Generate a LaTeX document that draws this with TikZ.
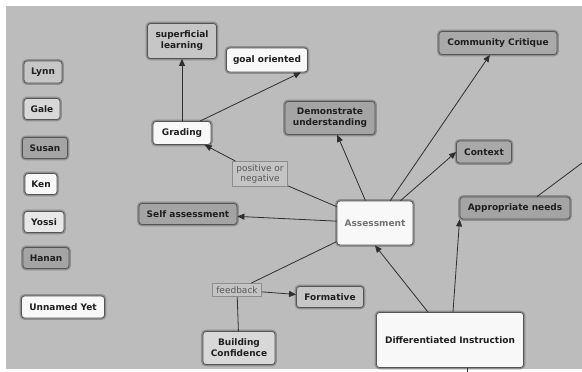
\documentclass[tikz,border=0pt]{standalone}
\usepackage{fontspec}
\setmainfont{DejaVu Sans}
\usetikzlibrary{arrows.meta}
\definecolor{bg}{HTML}{BCBCBC}
\definecolor{fwhite}{HTML}{F8F8F8}
\definecolor{flight}{HTML}{D8D8D8}
\definecolor{fmid}{HTML}{C6C6C6}
\definecolor{fdark}{HTML}{A4A4A4}
\definecolor{edgec}{HTML}{555555}
\definecolor{halo}{HTML}{8E8E8E}
\definecolor{linec}{HTML}{2E2E2E}
\definecolor{lblfill}{HTML}{C4C4C4}
\tikzset{
  concept/.style={rounded corners=3pt, draw=edgec, line width=0.8pt,
    preaction={draw=halo, line width=3.6pt},
    font=\fontsize{9}{11}\selectfont\bfseries, text=black!88,
    align=center, inner sep=0pt},
  sz/.style 2 args={minimum width=#1pt, minimum height=#2pt},
  lbl/.style={draw=halo, fill=lblfill, line width=0.8pt, text=black!65,
    font=\fontsize{9}{10.5}\selectfont, align=center, inner xsep=2pt, inner ysep=1pt},
  arr/.style={draw=linec, line width=0.8pt, -{Triangle[length=7pt,width=6pt]}},
  conn/.style={draw=linec, line width=0.8pt}
}
\begin{document}
\begin{tikzpicture}[x=1pt,y=-1pt]
\fill[white] (0,0) rectangle (582,372);
\fill[bg] (6,6) rectangle (582,369);
\useasboundingbox (0,0) rectangle (582,372);

% left column
\node[concept, fill=fmid, sz={38}{22}] (lynn) at (43,72) {Lynn};
\node[concept, fill=flight, sz={36}{21}] (gale) at (42,109) {Gale};
\node[concept, fill=fdark, sz={45}{21}] (susan) at (45,148) {Susan};
\node[concept, fill=fwhite, sz={32}{21}] (ken) at (41,184) {Ken};
\node[concept, fill=flight!50!fwhite, sz={40}{21}] (yossi) at (44,222) {Yossi};
\node[concept, fill=fdark, sz={46}{21}] (hanan) at (46,258) {Hanan};
\node[concept, fill=fwhite, sz={83}{22}] (unnamed) at (63,307) {Unnamed Yet};

% map
\node[concept, fill=fmid, sz={69}{35}] (superf) at (182,41) {superficial\\learning};
\node[concept, fill=fwhite, sz={81}{24}] (goal) at (267,60) {goal oriented};
\node[concept, fill=fwhite, sz={58}{23}] (grading) at (182,133) {Grading};
\node[concept, fill=fdark, sz={90}{33}] (demo) at (330,118) {Demonstrate\\understanding};
\node[concept, fill=fdark!85!fmid, sz={118}{23}] (crit) at (498,43) {Community Critique};
\node[concept, fill=fdark!85!fmid, sz={55}{22}] (context) at (484,152) {Context};
\node[concept, fill=fdark, sz={98}{21}] (self) at (188,214) {Self assessment};
\node[concept, fill=fwhite, sz={76}{44}, text=black!55] (assess) at (375,223) {Assessment};
\node[concept, fill=fdark, sz={110}{22}] (approp) at (515,208) {Appropriate needs};
\node[concept, fill=fmid, sz={67}{21}] (form) at (330,297) {Formative};
\node[concept, fill=fwhite, sz={147}{55}] (di) at (450,340) {Differentiated Instruction};
\node[concept, fill=flight, sz={72}{33}] (build) at (239,348) {Building\\Confidence};

% linking labels
\node[lbl, minimum width=55pt, minimum height=25pt] (posneg) at (260,174) {positive or\\negative};
\node[lbl, minimum width=49pt, minimum height=13pt] (feedback) at (237,290) {feedback};

% off-canvas ends
\coordinate (edgeR) at (582,163);
\coordinate (edgeB) at (467,372);

% connectors
\draw[arr] (grading) -- (superf);
\draw[arr] ([xshift=18pt]grading.north) -- ([xshift=-7pt]goal.south east);
\draw[conn] (assess) -- (posneg);
\draw[arr] (posneg) -- (grading);
\draw[arr] (assess) -- (demo);
\draw[arr] (assess) -- (crit);
\draw[arr] (assess) -- (context.west);
\draw[arr] (assess) -- (self);
\draw[conn] (assess) -- (feedback);
\draw[arr] (feedback) -- (form);
\draw[conn] (feedback) -- (build);
\draw[arr] ([xshift=-22pt]di.north) -- (assess.south);
\draw[arr] ([xshift=3pt]di.north) -- (approp.south west);
\draw[conn] (edgeR) -- ([xshift=22pt]approp.north);
\draw[conn] ([xshift=17pt]di.south) -- (edgeB);
\end{tikzpicture}
\end{document}
